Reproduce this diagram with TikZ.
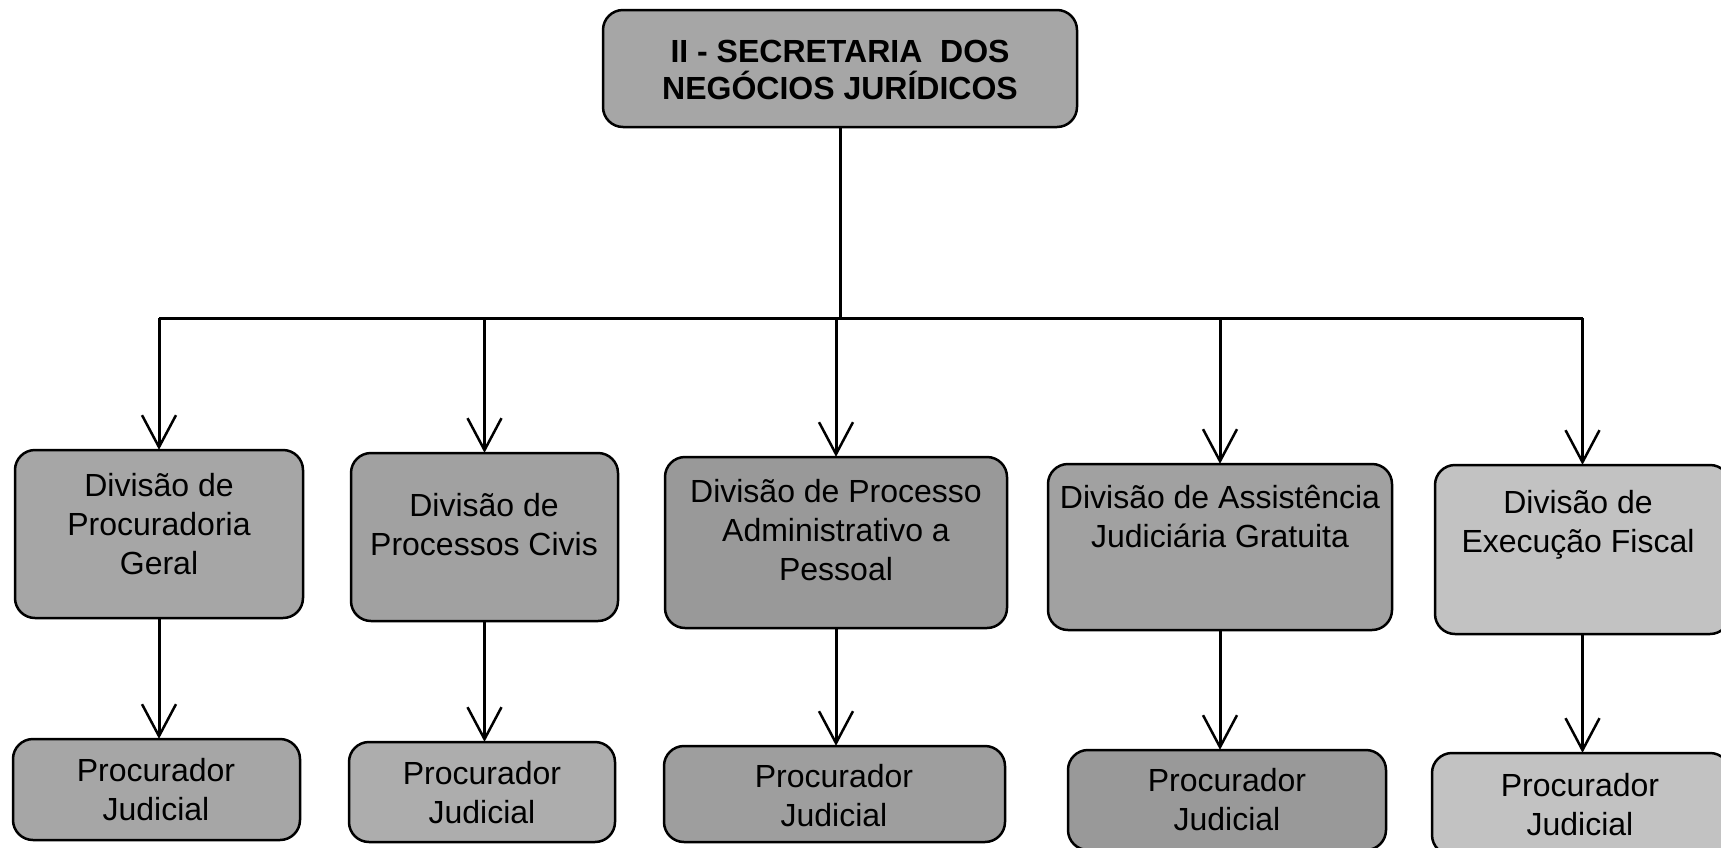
\documentclass[tikz,border=0pt]{standalone}
\usepackage{fontspec}
\setmainfont{Liberation Sans}
\usetikzlibrary{arrows.meta}
\tikzset{
  boxshape/.style={draw=black, line width=2.5pt, rounded corners=20pt, inner sep=0pt},
  divtext/.style={align=center, font=\fontsize{32}{39}\selectfont, inner sep=0pt},
  toptext/.style={align=center, font=\fontsize{32}{37}\selectfont\bfseries, inner sep=0pt},
  conn/.style={line width=3pt, draw=black},
  arr/.style={conn, -{Straight Barb[length=32pt,width=34pt,line width=2.5pt]}},
}
\newcommand{\mkbox}[6]{% name, x1, y1, x2, y2, fill
  \path[boxshape, fill=#6] (#2,#3) rectangle (#4,#5);
  \node[inner sep=0pt, minimum width={(#4-#2)*1pt}, minimum height={(#5-#3)*1pt}] (#1) at ({(#2+#4)/2},{(#3+#5)/2}) {};
}
\begin{document}
\begin{tikzpicture}[x=1pt,y=-1pt]
\useasboundingbox[fill=white] (0,0) rectangle (1721,847);

% top box
\mkbox{top}{603}{10}{1077}{127}{black!35}
\node[toptext] (toptx) at (840,70) {II - SECRETARIA~~DOS\\NEGÓCIOS JURÍDICOS};

% division boxes
\mkbox{d1}{15}{450}{303}{618}{black!35}
\mkbox{d2}{351}{453}{618}{621}{black!37}
\mkbox{d3}{665}{457}{1007}{628}{black!40}
\mkbox{d4}{1048}{464}{1392}{630}{black!37}
\mkbox{d5}{1435}{465}{1730}{634}{black!24}

\node[divtext] (t1) at (159,524) {Divisão de\\Procuradoria\\Geral};
\node[divtext] (t2) at (484,525) {Divisão de\\Processos Civis};
\node[divtext] (t3) at (836,530) {Divisão de Processo\\Administrativo a\\Pessoal};
\node[divtext] (t4) at (1220,516) {Divisão de Assistência\\Judiciária Gratuita};
\node[divtext] (t5) at (1578,525) {Divisão de\\Execução Fiscal};

% procurador boxes
\mkbox{p1}{13}{739}{300}{840}{black!35}
\mkbox{p2}{349}{742}{615}{842}{black!32}
\mkbox{p3}{664}{746}{1005}{842}{black!38}
\mkbox{p4}{1068}{750}{1386}{850}{black!40}
\mkbox{p5}{1432}{753}{1730}{855}{black!24}

\node[divtext] (q1) at (156,790) {Procurador\\Judicial};
\node[divtext] (q2) at (482,793) {Procurador\\Judicial};
\node[divtext] (q3) at (834,796) {Procurador\\Judicial};
\node[divtext] (q4) at (1227,800) {Procurador\\Judicial};
\node[divtext] (q5) at (1580,805) {Procurador\\Judicial};

% connectors
\coordinate (bar) at (840,318);
\draw[conn] (top.south) -- (bar);
\draw[conn] (d1.north |- bar) -- (d5.north |- bar);
\foreach \n in {d1,d2,d3,d4,d5}{
  \draw[arr] (\n.north |- bar) -- (\n.north);
}
\draw[arr] (d1.south) -- (d1.south |- p1.north);
\draw[arr] (d2.south) -- (d2.south |- p2.north);
\draw[arr] (d3.south) -- (d3.south |- p3.north);
\draw[arr] (d4.south) -- (d4.south |- p4.north);
\draw[arr] (d5.south) -- (d5.south |- p5.north);
\end{tikzpicture}
\end{document}
